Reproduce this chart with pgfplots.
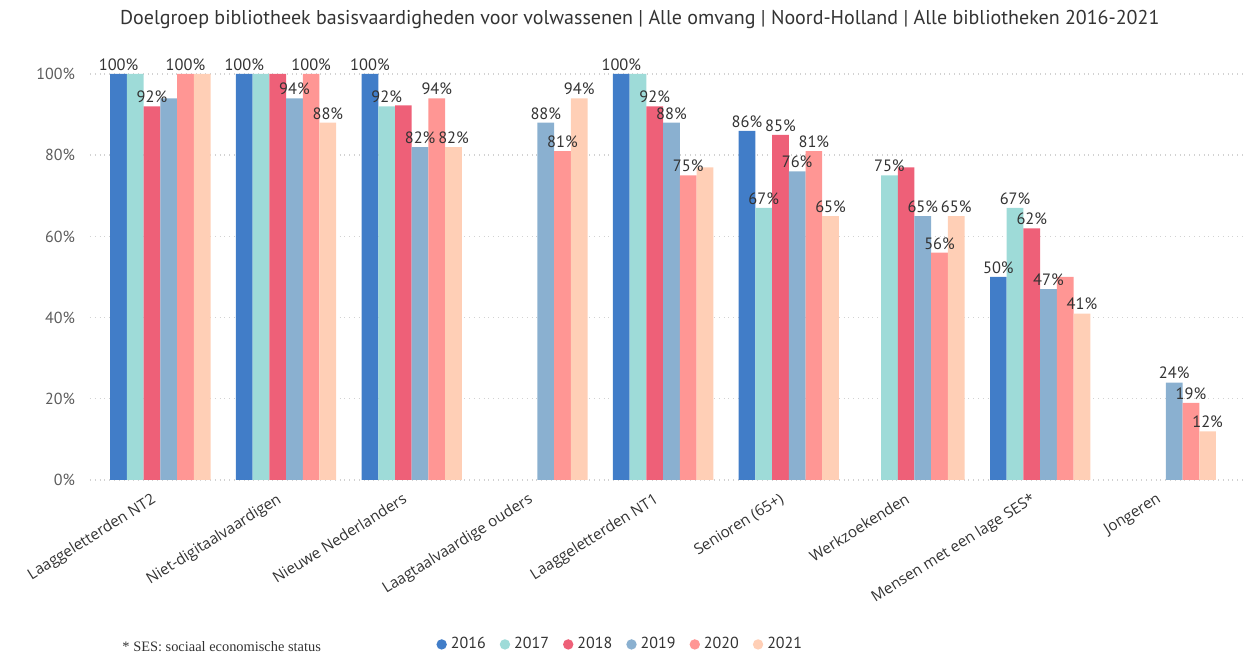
\documentclass[border=0pt]{standalone}
\usepackage{pgfplots}
\usepackage{pgfplotstable}
\pgfplotsset{compat=1.18}
\usepackage{fontspec}
\setmainfont{Open Sans}
\newfontfamily\dinfont{PT Sans}
\newfontfamily\seriffont{Liberation Serif}

\definecolor{c16}{RGB}{65,125,200}
\definecolor{c17}{RGB}{158,219,216}
\definecolor{c18}{RGB}{238,96,120}
\definecolor{c19}{RGB}{138,176,208}
\definecolor{c20}{RGB}{255,150,148}
\definecolor{c21}{RGB}{255,207,182}
\definecolor{txt}{RGB}{51,51,51}

% x = category index, y = value, l = visible label (-1 = hidden)
\pgfplotstableread{
x y l
0 100 100
1 100 100
2 100 100
4 100 100
5 86 86
7 50 50
}\tA
\pgfplotstableread{
x y l
0 100 -1
1 100 -1
2 92 92
4 100 -1
5 67 67
6 75 75
7 67 67
}\tB
\pgfplotstableread{
x y l
0 92 92
1 100 -1
2 92.3 -1
4 92 92
5 85 85
6 77 -1
7 62 62
}\tC
\pgfplotstableread{
x y l
0 94 -1
1 94 94
2 82 82
3 88 88
4 88 88
5 76 76
6 65 65
7 47 47
8 24 24
}\tD
\pgfplotstableread{
x y l
0 100 100
1 100 100
2 94 94
3 81 81
4 75 75
5 81 81
6 56 56
7 50 -1
8 19 19
}\tE
\pgfplotstableread{
x y l
0 100 -1
1 88 88
2 82 82
3 94 94
4 77 -1
5 65 65
6 65 65
7 41 41
8 12 12
}\tF

\begin{document}
\begin{tikzpicture}
\begin{axis}[
  scale only axis,
  width=577.5pt, height=203pt,
  ybar=0pt, bar width=0.133,
  xmin=-0.56, xmax=8.63,
  ymin=0, ymax=100,
  clip=false,
  axis line style={draw=none},
  major tick length=0pt,
  xtick={0,...,8},
  xticklabels={Laaggeletterden NT2, Niet-digitaalvaardigen, Nieuwe Nederlanders,
    Laagtaalvaardige ouders, Laaggeletterden NT1, Senioren (65+), Werkzoekenden,
    Mensen met een lage SES*, Jongeren},
  xticklabel style={rotate=32, anchor=north east, font=\fontsize{7.6}{8}\selectfont,
    text=txt, xshift=-4pt, yshift=1pt},
  ytick={0,20,40,60,80,100},
  yticklabels={0\%,20\%,40\%,60\%,80\%,100\%},
  yticklabel style={font=\dinfont\fontsize{8}{9}\selectfont, text=txt!80, xshift=-4pt},
  ymajorgrids,
  grid style={dotted, line width=0.7pt, gray!35},
  /pgf/number format/assume math mode=true,
  point meta=explicit,
  nodes near coords={\pgfmathfloattofixed{\pgfplotspointmeta}%
    \ifdim\pgfmathresult pt<0pt\relax\else
    \pgfmathprintnumber[fixed,precision=0]{\pgfplotspointmeta}\%\fi},
  every node near coord/.append style={font=\dinfont\fontsize{8.2}{9}\selectfont, text=txt,
    anchor=south, inner sep=1.5pt},
  every axis plot/.append style={draw=none},
  legend columns=6,
  legend style={at={(axis description cs:0.46,-0.405)}, anchor=center, draw=none,
    font=\dinfont\fontsize{8}{9}\selectfont, text=txt,
    /tikz/every even column/.append style={column sep=5pt}},
  legend image code/.code={\fill (2pt,0pt) circle (2.6pt);},
]
\addplot[fill=c16] table[x=x,y=y,meta=l] {\tA};
\addplot[fill=c17] table[x=x,y=y,meta=l] {\tB};
\addplot[fill=c18] table[x=x,y=y,meta=l] {\tC};
\addplot[fill=c19] table[x=x,y=y,meta=l] {\tD};
\addplot[fill=c20] table[x=x,y=y,meta=l] {\tE};
\addplot[fill=c21] table[x=x,y=y,meta=l] {\tF};
\legend{2016,2017,2018,2019,2020,2021}
\node[anchor=center, font=\dinfont\fontsize{10}{11}\selectfont, text=txt]
  at (axis description cs:0.476,1.133)
  {Doelgroep bibliotheek basisvaardigheden voor volwassenen | Alle omvang | Noord-Holland | Alle bibliotheken 2016-2021};
\node[anchor=west, font=\seriffont\fontsize{7.2}{8}\selectfont, text=txt]
  at (axis description cs:0.022,-0.41) {* SES: sociaal economische status};
\end{axis}
\path[use as bounding box] (-45pt,-85.5pt) rectangle (582pt,240pt);
\end{tikzpicture}
\end{document}
